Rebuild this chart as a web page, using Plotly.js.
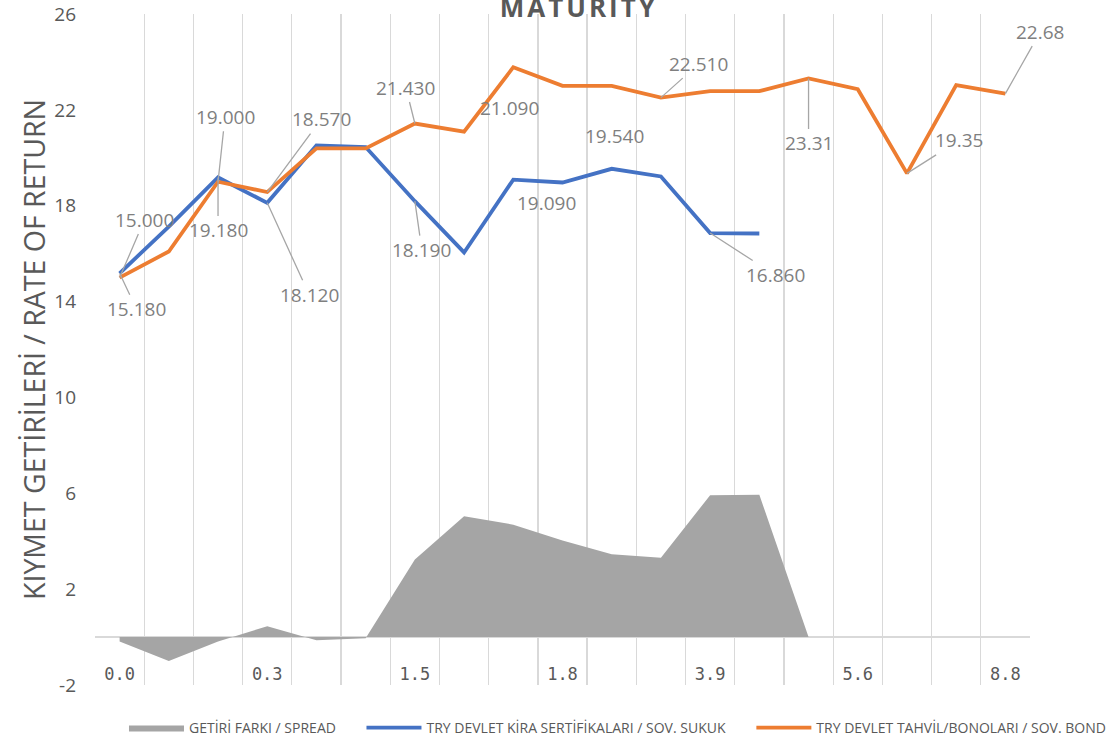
<!DOCTYPE html>
<html>
<head>
<meta charset="utf-8">
<script src="https://cdn.plot.ly/plotly-3.0.1.min.js"></script>
<style>
html,body{margin:0;padding:0;background:#fff;}
#chart{width:1109px;height:741px;}
.gtitle{letter-spacing:3px;}
</style>
</head>
<body>
<div id="chart"></div>
<script>
// ---- data ----
var positions = [0,1,2,3,4,5,6,7,8,9,10,11,12,13,14,15,16,17,18];
var tickIndex = [0,3,6,9,12,15,18];
var tickLabels = ['0.0','0.3','1.5','1.8','3.9','5.6','8.8'];
var yTickVals = [-2,2,6,10,14,18,22,26];
var yTickLabels = ['-2','2','6','10','14','18','22','26'];

var spreadValues = [-0.18,-1.00,-0.18,0.45,-0.13,-0.05,3.24,5.04,4.69,4.03,3.46,3.31,5.92,5.94,0,null,null,null,null];
var sukukValues  = [15.18,17.13,19.18,18.12,20.52,20.45,18.19,16.05,19.09,18.97,19.54,19.22,16.86,16.84,null,null,null,null,null];
var bondValues   = [15.00,16.09,19.00,18.57,20.39,20.39,21.43,21.09,23.78,23.00,23.00,22.51,22.78,22.78,23.31,22.86,19.35,23.03,22.68];

var seriesNames = ['GETİRİ FARKI / SPREAD','TRY DEVLET KİRA SERTİFİKALARI / SOV. SUKUK','TRY DEVLET TAHVİL/BONOLARI / SOV. BOND'];

// data labels: index, decimals
var sukukLabelIdx = [0,2,3,6,8,10,12];
var sukukLabelDec = [3,3,3,3,3,3,3];
var bondLabelIdx  = [0,2,3,6,7,11,14,16,18];
var bondLabelDec  = [3,3,3,3,3,3,2,2,2];

// label placement (px offsets from point); arrow = leader line
var sukukLabelPos = [
  {ax:17, ay:36, arrow:true},
  {ax:0, ay:53, arrow:true},
  {ax:42, ay:92, arrow:true},
  {ax:7, ay:49, arrow:true},
  {ax:33, ay:23, arrow:false},
  {ax:3, ay:-33, arrow:false},
  {ax:65, ay:42, arrow:true}
];
var bondLabelPos = [
  {ax:25, ay:-58, arrow:true},
  {ax:7, ay:-65, arrow:true},
  {ax:54, ay:-73, arrow:true},
  {ax:-9, ay:-36, arrow:true},
  {ax:45, ay:-24, arrow:false},
  {ax:38, ay:-34, arrow:true},
  {ax:0, ay:65, arrow:true},
  {ax:52, ay:-33, arrow:true},
  {ax:35, ay:-62, arrow:true}
];

var FONT = 'Open Sans, Noto Sans, sans-serif';
var labelColor = '#7F7F7F';
var leaderColor = '#A6A6A6';

function makeLabels(idxs, decs, pos, values) {
  return idxs.map(function(i, k) {
    var p = pos[k];
    var a = {
      x: positions[i], y: values[i], xref: 'x', yref: 'y',
      text: values[i].toFixed(decs[k]),
      font: {family: FONT, size: 19, color: labelColor}
    };
    if (p.arrow) {
      a.showarrow = true; a.arrowhead = 0; a.arrowwidth = 1.3;
      a.arrowcolor = leaderColor; a.ax = p.ax; a.ay = p.ay;
      a.standoff = 0; a.startstandoff = 0;
    } else {
      a.showarrow = false; a.xshift = p.ax; a.yshift = -p.ay;
    }
    return a;
  });
}

var annotations = makeLabels(sukukLabelIdx, sukukLabelDec, sukukLabelPos, sukukValues)
  .concat(makeLabels(bondLabelIdx, bondLabelDec, bondLabelPos, bondValues));

var traces = [
  {
    x: positions, y: spreadValues, name: seriesNames[0], type: 'scatter', mode: 'lines',
    fill: 'tozeroy', fillcolor: '#A5A5A5', line: {width: 0, color: '#A5A5A5'},
    legend: 'legend', hoverinfo: 'skip'
  },
  {
    x: positions, y: sukukValues, name: seriesNames[1], type: 'scatter', mode: 'lines',
    line: {width: 3.8, color: '#4472C4'}, legend: 'legend2', hoverinfo: 'skip'
  },
  {
    x: positions, y: bondValues, name: seriesNames[2], type: 'scatter', mode: 'lines',
    line: {width: 3.8, color: '#ED7D31'}, legend: 'legend3', hoverinfo: 'skip'
  }
];

function leg(x) {
  return {
    x: x, y: -0.064, xanchor: 'left', yanchor: 'middle', orientation: 'h',
    font: {family: FONT, size: 14, color: '#595959'}, itemwidth: 55,
    bgcolor: 'rgba(0,0,0,0)'
  };
}

var layout = {
  width: 1109, height: 741,
  margin: {l: 95, r: 79, t: 14, b: 56, autoexpand: false},
  paper_bgcolor: '#fff', plot_bgcolor: '#fff',
  showlegend: true,
  title: {
    text: 'MATURITY', xref: 'container', yref: 'container',
    x: 0.522, xanchor: 'center', y: 0.989, yanchor: 'middle',
    font: {family: FONT, size: 26, color: '#595959', weight: 'bold'}
  },
  xaxis: {
    range: [-0.5, 18.5], fixedrange: true, automargin: false,
    anchor: 'free', position: 0.034,
    tickmode: 'array', tickvals: tickIndex, ticktext: tickLabels,
    showgrid: false, zeroline: false, showline: false, ticks: '',
    ticklabelposition: 'outside',
    tickfont: {family: 'DejaVu Sans Mono, monospace', size: 17, color: '#595959'},
    minor: {tick0: -0.5, dtick: 1, showgrid: true, gridcolor: '#D9D9D9', gridwidth: 1.3, ticks: ''}
  },
  yaxis: {
    range: [-2, 26], fixedrange: true, automargin: false,
    tickmode: 'array', tickvals: yTickVals, ticktext: yTickLabels,
    showgrid: false, showline: false, ticks: '',
    zeroline: true, zerolinecolor: '#D9D9D9', zerolinewidth: 2,
    ticklabelstandoff: 18,
    tickfont: {family: FONT, size: 19, color: '#595959'},
    title: {text: 'KIYMET GETİRİLERİ / RATE OF RETURN', standoff: 0,
            font: {family: FONT, size: 28.5, color: '#595959'}}
  },
  legend: leg(0.031),
  legend2: leg(0.285),
  legend3: leg(0.702),
  annotations: annotations
};

Plotly.newPlot('chart', traces, layout, {displayModeBar: false, staticPlot: true});
</script>
</body>
</html>
